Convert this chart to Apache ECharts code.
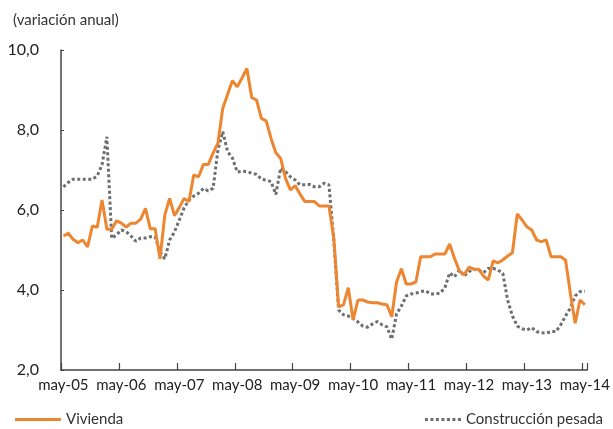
<!DOCTYPE html>
<html>
<head>
<meta charset="utf-8">
<script src="https://cdn.jsdelivr.net/npm/echarts@6/dist/echarts.min.js"></script>
<style>
html,body{margin:0;padding:0;background:#fff;}
#chart{width:613px;height:429px;}
</style>
</head>
<body>
<div id="chart"></div>
<script>
const categories = [
 'may-05','jun-05','jul-05','ago-05','sep-05','oct-05','nov-05','dic-05',
 'ene-06','feb-06','mar-06','abr-06','may-06','jun-06','jul-06','ago-06','sep-06','oct-06','nov-06','dic-06',
 'ene-07','feb-07','mar-07','abr-07','may-07','jun-07','jul-07','ago-07','sep-07','oct-07','nov-07','dic-07',
 'ene-08','feb-08','mar-08','abr-08','may-08','jun-08','jul-08','ago-08','sep-08','oct-08','nov-08','dic-08',
 'ene-09','feb-09','mar-09','abr-09','may-09','jun-09','jul-09','ago-09','sep-09','oct-09','nov-09','dic-09',
 'ene-10','feb-10','mar-10','abr-10','may-10','jun-10','jul-10','ago-10','sep-10','oct-10','nov-10','dic-10',
 'ene-11','feb-11','mar-11','abr-11','may-11','jun-11','jul-11','ago-11','sep-11','oct-11','nov-11','dic-11',
 'ene-12','feb-12','mar-12','abr-12','may-12','jun-12','jul-12','ago-12','sep-12','oct-12','nov-12','dic-12',
 'ene-13','feb-13','mar-13','abr-13','may-13','jun-13','jul-13','ago-13','sep-13','oct-13','nov-13','dic-13',
 'ene-14','feb-14','mar-14','abr-14','may-14'
];

const vivienda = [
 5.35,5.42,5.27,5.18,5.25,5.08,5.6,5.57,
 6.25,5.52,5.52,5.73,5.67,5.57,5.67,5.67,5.77,6.04,5.53,5.53,
 4.78,5.87,6.29,5.86,6.06,6.29,6.21,6.88,6.83,7.14,7.14,7.42,
 7.67,8.54,8.89,9.23,9.08,9.3,9.54,8.81,8.75,8.29,8.23,7.79,
 7.43,7.29,6.79,6.5,6.61,6.4,6.21,6.21,6.21,6.1,6.1,6.1,
 5.3,3.58,3.63,4.06,3.25,3.75,3.75,3.7,3.68,3.68,3.65,3.63,
 3.33,4.2,4.53,4.15,4.15,4.2,4.83,4.83,4.83,4.9,4.9,4.9,
 5.15,4.79,4.48,4.38,4.57,4.52,4.52,4.35,4.25,4.73,4.68,4.75,
 4.85,4.93,5.9,5.75,5.58,5.5,5.25,5.21,5.25,4.83,4.83,4.83,
 4.75,3.92,3.17,3.75,3.63
];

const construccionPesada = [
 6.58,6.69,6.77,6.77,6.77,6.77,6.77,6.85,
 7.13,7.83,5.29,5.38,5.5,5.46,5.35,5.22,5.3,5.3,5.33,5.33,
 4.96,4.78,5.25,5.45,5.75,6.05,6.25,6.35,6.42,6.54,6.48,6.54,
 7.5,7.96,7.46,7.3,6.95,6.97,6.96,6.92,6.89,6.77,6.75,6.71,
 6.39,7.05,6.96,6.83,6.75,6.63,6.63,6.64,6.58,6.58,6.67,6.63,
 5.25,3.5,3.38,3.35,3.29,3.2,3.1,3.07,3.15,3.21,3.13,3.08,
 2.77,3.4,3.6,3.85,3.9,3.92,3.96,3.98,3.9,3.9,3.92,4.05,
 4.43,4.33,4.5,4.35,4.46,4.52,4.5,4.43,4.54,4.54,4.5,4.42,
 3.75,3.35,3.1,3.03,3.0,3.06,2.96,2.93,2.92,2.96,2.96,3.13,
 3.35,3.55,3.85,3.96,3.97
];

const yTicks = [2, 4, 6, 8, 10];

const FONT = 'Lato';
const solidIcon = 'path://M0,0h46v3h-46z';
const dottedIcon = 'path://M0,0h3v3h-3z M5.5,0h3v3h-3z M11,0h3v3h-3z M16.5,0h3v3h-3z M22,0h3v3h-3z M27.5,0h3v3h-3z M33,0h3v3h-3z';

const chart = echarts.init(document.getElementById('chart'), null, {renderer: 'canvas'});
chart.setOption({
  animation: false,
  backgroundColor: '#fff',
  title: {
    text: '(variación anual)',
    left: 8, top: 8,
    textStyle: {fontFamily: FONT, fontSize: 15, fontWeight: 'normal', color: '#333'}
  },
  legend: [
    {
      data: [{name: 'Vivienda', icon: solidIcon}], left: 10, top: 407,
      itemWidth: 46, itemHeight: 3, itemGap: 6,
      textStyle: {fontFamily: FONT, fontSize: 15, color: '#333'}
    },
    {
      data: [{name: 'Construcción pesada', icon: dottedIcon}], right: 5, top: 407,
      itemWidth: 36, itemHeight: 3,
      textStyle: {fontFamily: FONT, fontSize: 15, color: '#333'}
    }
  ],
  grid: {left: 61, right: 24, top: 50, bottom: 59, containLabel: false},
  xAxis: {
    type: 'category',
    data: categories,
    boundaryGap: true,
    axisLine: {lineStyle: {color: '#444', width: 1.5}},
    axisTick: {show: true, inside: true, length: 7, interval: 11, alignWithLabel: false, lineStyle: {color: '#444', width: 1.2}},
    axisLabel: {interval: 11, margin: 8, fontFamily: FONT, fontSize: 15, color: '#222'},
    splitLine: {show: false}
  },
  yAxis: {
    type: 'value',
    min: yTicks[0], max: yTicks[yTicks.length - 1], interval: 2,
    axisLine: {show: true, lineStyle: {color: '#444', width: 1.5}},
    axisTick: {show: true, inside: true, length: 3, lineStyle: {color: '#444'}},
    axisLabel: {
      margin: 22, fontFamily: FONT, fontSize: 16, color: '#222',
      formatter: v => v.toFixed(1).replace('.', ',')
    },
    splitLine: {show: false}
  },
  series: [
    {
      name: 'Vivienda', type: 'line', data: vivienda,
      symbol: 'none', showSymbol: false,
      lineStyle: {color: '#EC8630', width: 3},
      itemStyle: {color: '#EC8630'},
      z: 3
    },
    {
      name: 'Construcción pesada', type: 'line', data: construccionPesada,
      symbol: 'none', showSymbol: false,
      lineStyle: {color: '#6D6E71', width: 3, type: [3, 2.5]},
      itemStyle: {color: '#6D6E71'},
      z: 2
    }
  ]
});
</script>
</body>
</html>
